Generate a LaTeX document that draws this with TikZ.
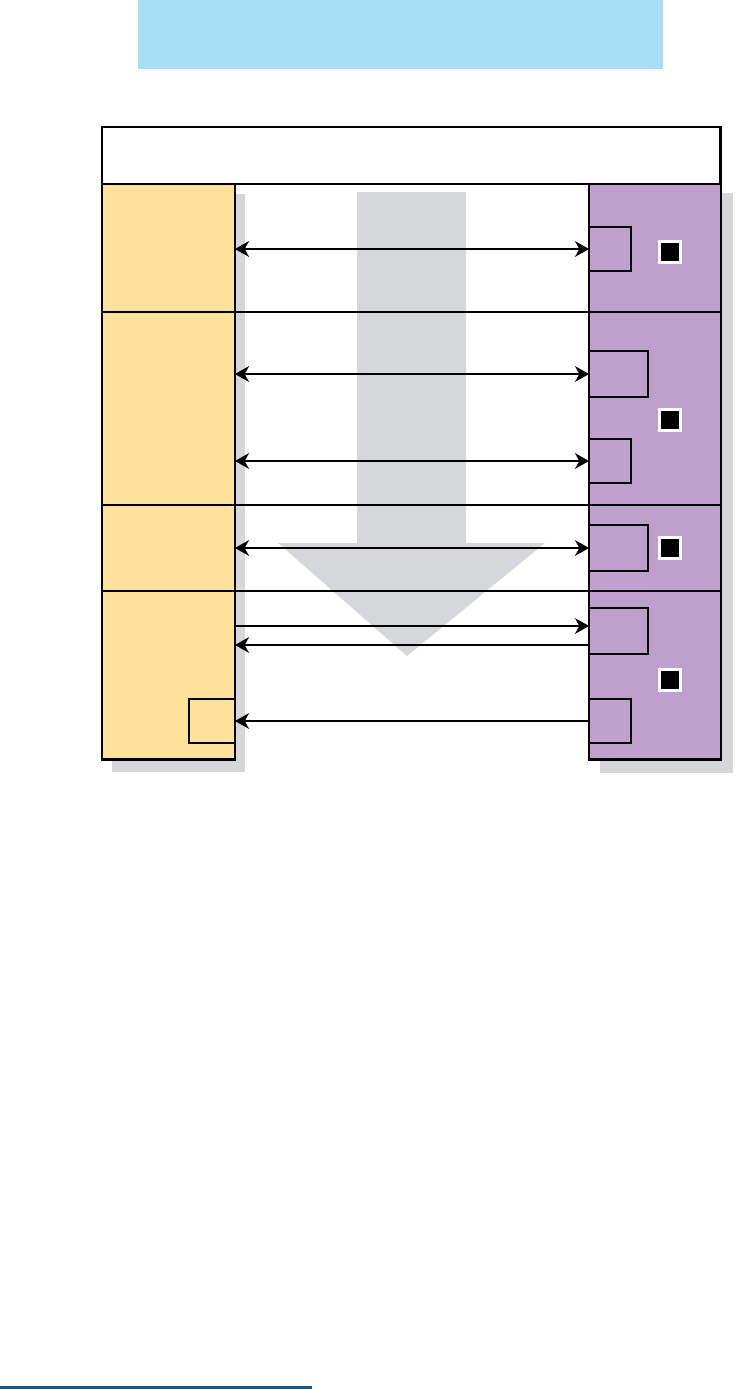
\documentclass[tikz,border=0pt]{standalone}
\usetikzlibrary{arrows.meta}
\definecolor{bandblue}{RGB}{166,223,245}
\definecolor{coryellow}{RGB}{253,226,156}
\definecolor{corpurple}{RGB}{191,160,204}
\definecolor{shadowgrey}{RGB}{214,215,217}
\definecolor{rulblue}{RGB}{11,90,154}
\tikzset{
  frame/.style={draw, line width=1.6pt, inner sep=0pt, outer sep=0pt, anchor=north west},
  portbox/.style={draw, line width=0.9pt, inner sep=0pt, outer sep=0pt, anchor=west},
  flag/.style={fill=black, draw=white, line width=1.2pt, minimum size=0.42cm, inner sep=0pt},
  link/.style={line width=0.9pt},
  onearrow/.style={link, -{Stealth[length=8pt,width=9pt,inset=2.5pt]}},
  twoarrow/.style={link, {Stealth[length=8pt,width=9pt,inset=2.5pt]}-{Stealth[length=8pt,width=9pt,inset=2.5pt]}}
}
\begin{document}
\begin{tikzpicture}[x=0.02cm,y=-0.02cm]
\useasboundingbox (0,0) rectangle (735,1389);
% top band
\fill[bandblue] (138,0) rectangle (663,69);
% shadows
\fill[shadowgrey] (112,194) rectangle (245,772);
\fill[shadowgrey] (600,193) rectangle (733,773);
% big grey arrow
\fill[shadowgrey] (357,192) -- (466,192) -- (466,543) -- (545,543) -- (407,656)
  -- (278,543) -- (357,543) -- cycle;
% header and columns
\node[frame, fill=white, minimum width=12.38cm, minimum height=1.14cm] (head) at (102,127) {};
\node[frame, fill=coryellow, minimum width=2.66cm, minimum height=11.52cm] (left) at (102,184) {};
\node[frame, fill=corpurple, minimum width=2.64cm, minimum height=11.52cm] (right) at (589,184) {};
% row lines
\draw[link] (102,312) -- (721,312);
\draw[link] (102,505) -- (721,505);
\draw[link] (102,591) -- (721,591);
% boxes on the right
\node[portbox, minimum width=0.84cm, minimum height=0.88cm] (p1) at (589,249) {};
\node[portbox, minimum width=1.18cm, minimum height=0.92cm] (p2) at (589,374) {};
\node[portbox, minimum width=0.84cm, minimum height=0.88cm] (p3) at (589,461) {};
\node[portbox, minimum width=1.18cm, minimum height=0.92cm] (p4) at (589,548) {};
\node[portbox, minimum width=1.18cm, minimum height=0.92cm] (p5) at (589,631) {};
\node[portbox, minimum width=0.84cm, minimum height=0.88cm] (p6) at (589,721) {};
% box on the left
\node[portbox, anchor=east, minimum width=0.92cm, minimum height=0.88cm] (q1) at (235,721) {};
% flags
\node[flag] (f1) at (670,252) {};
\node[flag] (f2) at (670,420) {};
\node[flag] (f3) at (670,548) {};
\node[flag] (f4) at (670,680) {};
% arrows
\coordinate (s5) at (235,626);
\coordinate (s6) at (589,645);
\draw[twoarrow] (p1.west -| left.east) -- (p1.west);
\draw[twoarrow] (p2.west -| left.east) -- (p2.west);
\draw[twoarrow] (p3.west -| left.east) -- (p3.west);
\draw[twoarrow] (p4.west -| left.east) -- (p4.west);
\draw[onearrow] (s5) -- (s5 -| right.west);
\draw[onearrow] (s6) -- (s6 -| left.east);
\draw[onearrow] (p6.west) -- (q1.east);
% bottom rule
\fill[rulblue] (0,1386) rectangle (312,1389);
\end{tikzpicture}
\end{document}
